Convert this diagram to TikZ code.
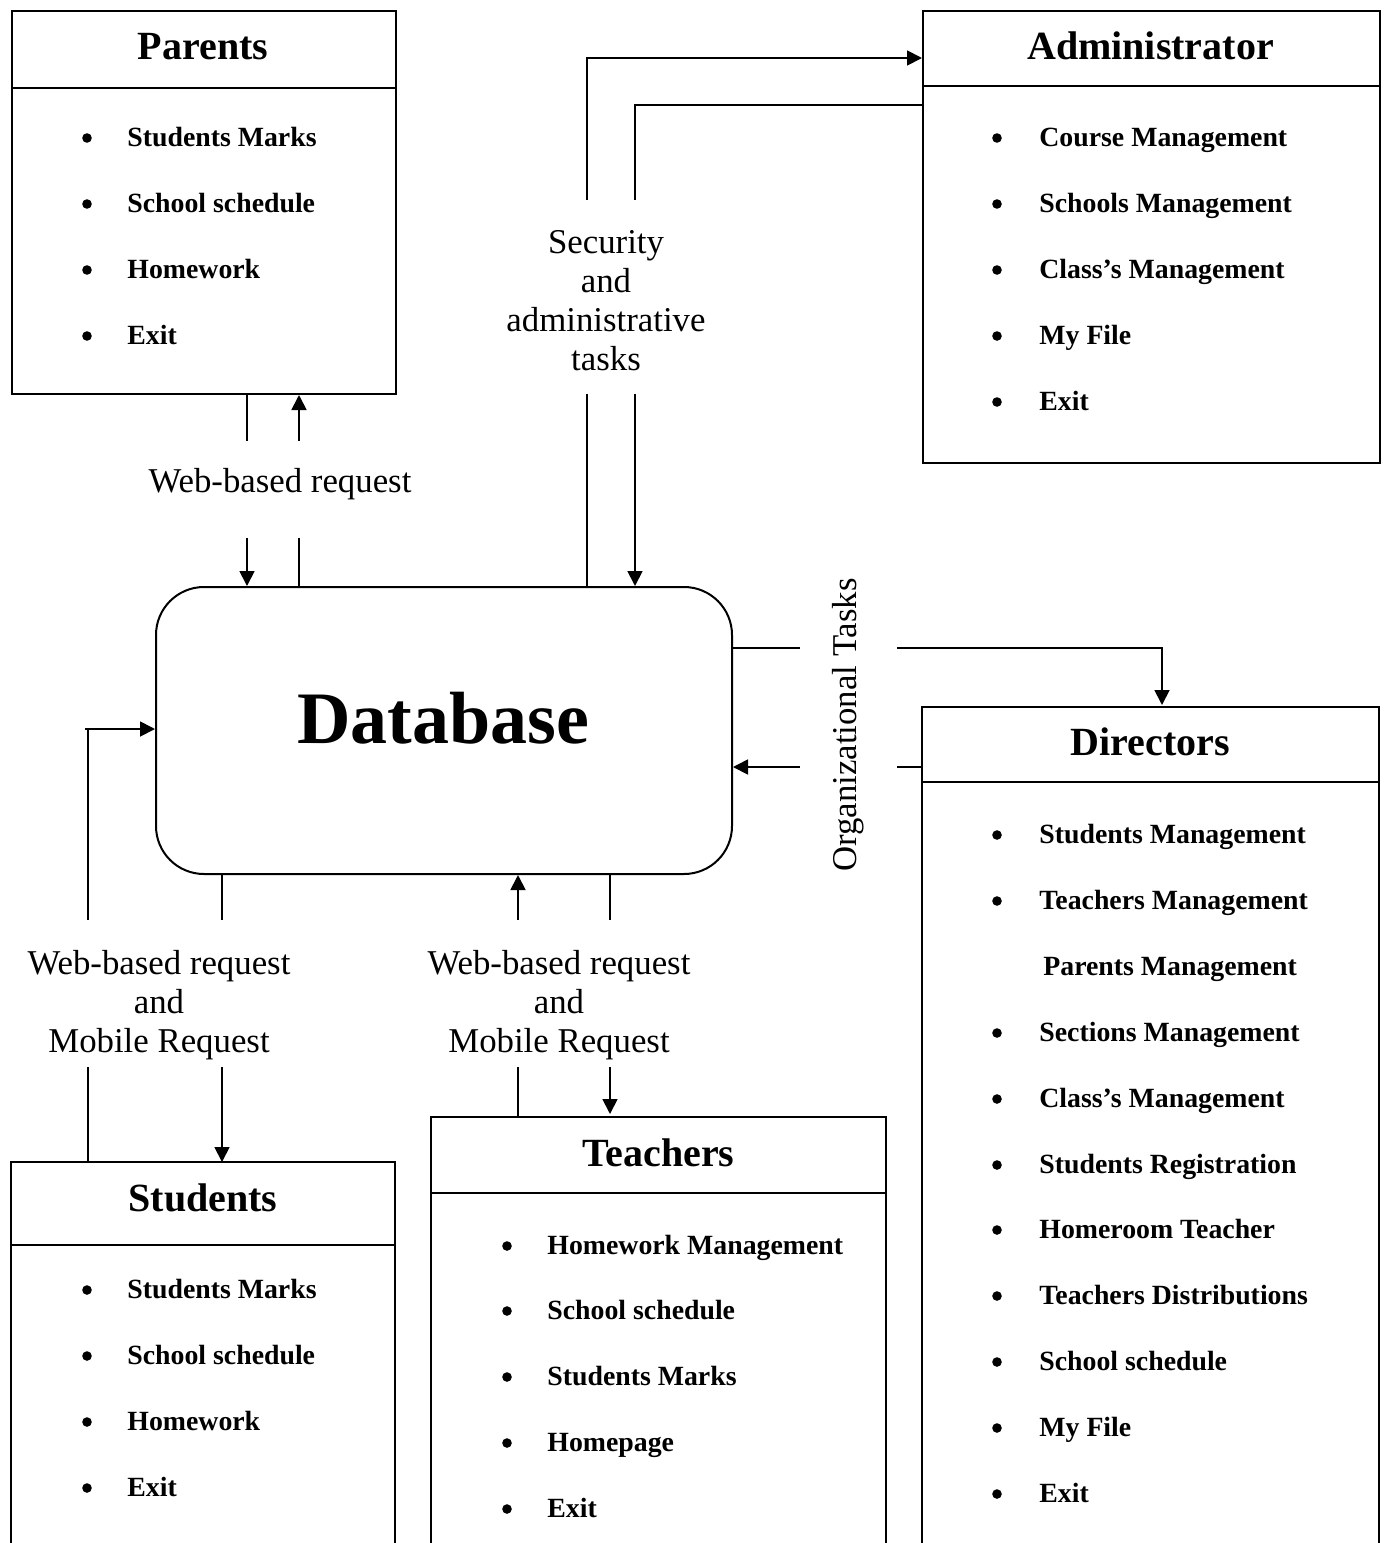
\documentclass[tikz,border=0pt]{standalone}
\usepackage{fontspec}
\setmainfont{Liberation Serif}
\usetikzlibrary{arrows.meta}
\newcommand{\bitem}[5]{%
  \fill (#2,#4+1) circle[radius=2.4pt];
  \node[item] (#1) at (#3,#4+9.5) {#5};}
\begin{document}
\begin{tikzpicture}[x=0.5pt,y=-0.5pt,
  box/.style={draw,line width=1pt,rectangle,inner sep=0pt,anchor=north west},
  bline/.style={line width=1pt},
  conn/.style={line width=0.9pt},
  arr/.style={conn,-{Triangle[length=7.5pt,width=7.5pt]}},
  item/.style={anchor=base west,inner sep=0pt,font=\fontsize{13.9}{16}\selectfont\bfseries},
  ttl/.style={anchor=base,inner sep=0pt,font=\fontsize{20}{24}\selectfont\bfseries},
  lbl/.style={inner sep=0pt,align=center,font=\fontsize{17.4}{19.5}\selectfont}]
\useasboundingbox (0,0) rectangle (1385,1543);

% ---------- closed boxes ----------
\node[box,minimum width=192pt,minimum height=191.5pt] (parents) at (11,10) {};
\draw[bline] (11,88) -- (395,88);
\node[box,minimum width=228.5pt,minimum height=226pt] (admin) at (922,10) {};
\draw[bline] (922,86) -- (1379,86);
\node[box,rounded corners=24pt,minimum width=288pt,minimum height=143.5pt] (db) at (155,586) {};

% ---------- open boxes (run off the bottom edge) ----------
\draw[bline] (922,1550) -- (922,707) coordinate (dirNW) -- (1379,707) coordinate (dirNE) -- (1379,1550);
\draw[bline] (922,782) -- (1379,782);
\draw[bline] (11,1550) -- (11,1162) coordinate (stuNW) -- (395,1162) coordinate (stuNE) -- (395,1550);
\draw[bline] (11,1245) -- (395,1245);
\draw[bline] (431,1550) -- (431,1117) coordinate (teaNW) -- (886,1117) coordinate (teaNE) -- (886,1550);
\draw[bline] (431,1193) -- (886,1193);

% ---------- titles ----------
\node[ttl] (tpar) at (203,59) {Parents};
\node[ttl] (tadm) at (1150.5,59) {Administrator};
\node[ttl] (tdir) at (1150.5,755) {Directors};
\node[ttl] (tstu) at (203,1211) {Students};
\node[ttl] (ttea) at (658.5,1166) {Teachers};
\node[anchor=base,inner sep=0pt,font=\fontsize{37}{40}\selectfont\bfseries] (dbtext) at (443,743) {Database};

% ---------- items ----------
\bitem{p1}{87}{127}{137}{Students Marks}
\bitem{p2}{87}{127}{203}{School schedule}
\bitem{p3}{87}{127}{269}{Homework}
\bitem{p4}{87}{127}{335}{Exit}

\bitem{a1}{997}{1039}{137}{Course Management}
\bitem{a2}{997}{1039}{203}{Schools Management}
\bitem{a3}{997}{1039}{269}{Class’s Management}
\bitem{a4}{997}{1039}{335}{My File}
\bitem{a5}{997}{1039}{401}{Exit}

\bitem{d1}{997}{1039}{834}{Students Management}
\bitem{d2}{997}{1039}{900}{Teachers Management}
\node[item] (d3) at (1043,975.5) {Parents Management};
\bitem{d4}{997}{1039}{1032}{Sections Management}
\bitem{d5}{997}{1039}{1098}{Class’s Management}
\bitem{d6}{997}{1039}{1164}{Students Registration}
\bitem{d7}{997}{1039}{1229}{Homeroom Teacher}
\bitem{d8}{997}{1039}{1295}{Teachers Distributions}
\bitem{d9}{997}{1039}{1361}{School schedule}
\bitem{d10}{997}{1039}{1427}{My File}
\bitem{d11}{997}{1039}{1493}{Exit}

\bitem{s1}{87}{127}{1289}{Students Marks}
\bitem{s2}{87}{127}{1355}{School schedule}
\bitem{s3}{87}{127}{1421}{Homework}
\bitem{s4}{87}{127}{1487}{Exit}

\bitem{t1}{507}{547}{1245}{Homework Management}
\bitem{t2}{507}{547}{1310}{School schedule}
\bitem{t3}{507}{547}{1376}{Students Marks}
\bitem{t4}{507}{547}{1442}{Homepage}
\bitem{t5}{507}{547}{1508}{Exit}

% ---------- connector labels ----------
\node[lbl] (lweb) at (280,484.5) {Web-based request};
\node[lbl] (lsec) at (606,300.5) {Security\\and\\administrative\\tasks};
\node[lbl,rotate=90] (lorg) at (848,725) {Organizational Tasks};
\node[lbl] (lstu) at (159,1005) {Web-based request\\and\\Mobile Request};
\node[lbl] (ltea) at (559,1005) {Web-based request\\and\\Mobile Request};

% ---------- helper coordinates ----------
\coordinate (xA) at (247,0);  \coordinate (xB) at (299,0);
\coordinate (xC) at (587,0);  \coordinate (xD) at (635,0);
\coordinate (xF) at (1162,0);
\coordinate (xH) at (88,0);   \coordinate (xJ) at (222,0);
\coordinate (xK) at (518,0);  \coordinate (xL) at (610,0);
\coordinate (gp1) at (0,441); \coordinate (gp2) at (0,538);
\coordinate (ga1) at (0,200); \coordinate (ga2) at (0,394);
\coordinate (gd1) at (800,0); \coordinate (gd2) at (897,0);
\coordinate (yE) at (0,648);  \coordinate (yG) at (0,767);
\coordinate (gs1) at (0,920); \coordinate (gs2) at (0,1067);
\coordinate (yI) at (0,729);  \coordinate (xIs) at (85,0);
\coordinate (aIn) at (922,58); \coordinate (aOut) at (922,105);

% ---------- Parents <-> Database ----------
\draw[conn] (parents.south -| xA) -- (xA |- gp1);
\draw[arr]  (xA |- gp2) -- (xA |- db.north);
\draw[conn] (db.north -| xB) -- (xB |- gp2);
\draw[arr]  (xB |- gp1) -- (parents.south -| xB);

% ---------- Administrator <-> Database ----------
\draw[conn] (db.north -| xC) -- (xC |- ga2);
\draw[arr]  (xC |- ga1) -- (xC |- aIn) -- (aIn);
\draw[conn] (aOut) -- (xD |- aOut) -- (xD |- ga1);
\draw[arr]  (xD |- ga2) -- (xD |- db.north);

% ---------- Directors <-> Database ----------
\draw[conn] (db.east |- yE) -- (gd1 |- yE);
\draw[arr]  (gd2 |- yE) -- (xF |- yE) -- ([yshift=1pt]xF |- dirNW);
\draw[conn] (dirNW |- yG) -- (gd2 |- yG);
\draw[arr]  (gd1 |- yG) -- (db.east |- yG);

% ---------- Students <-> Database ----------
\draw[conn] (xH |- stuNW) -- (xH |- gs2);
\draw[conn] (xH |- gs1) -- (xH |- yI);
\draw[arr]  (xIs |- yI) -- (db.west |- yI);
\draw[conn] (db.south -| xJ) -- (xJ |- gs1);
\draw[arr]  (xJ |- gs2) -- (xJ |- stuNW);

% ---------- Teachers <-> Database ----------
\draw[conn] (xK |- teaNW) -- (xK |- gs2);
\draw[arr]  (xK |- gs1) -- (xK |- db.south);
\draw[conn] (db.south -| xL) -- (xL |- gs1);
\draw[arr]  (xL |- gs2) -- ([yshift=1.5pt]xL |- teaNW);
\end{tikzpicture}
\end{document}
